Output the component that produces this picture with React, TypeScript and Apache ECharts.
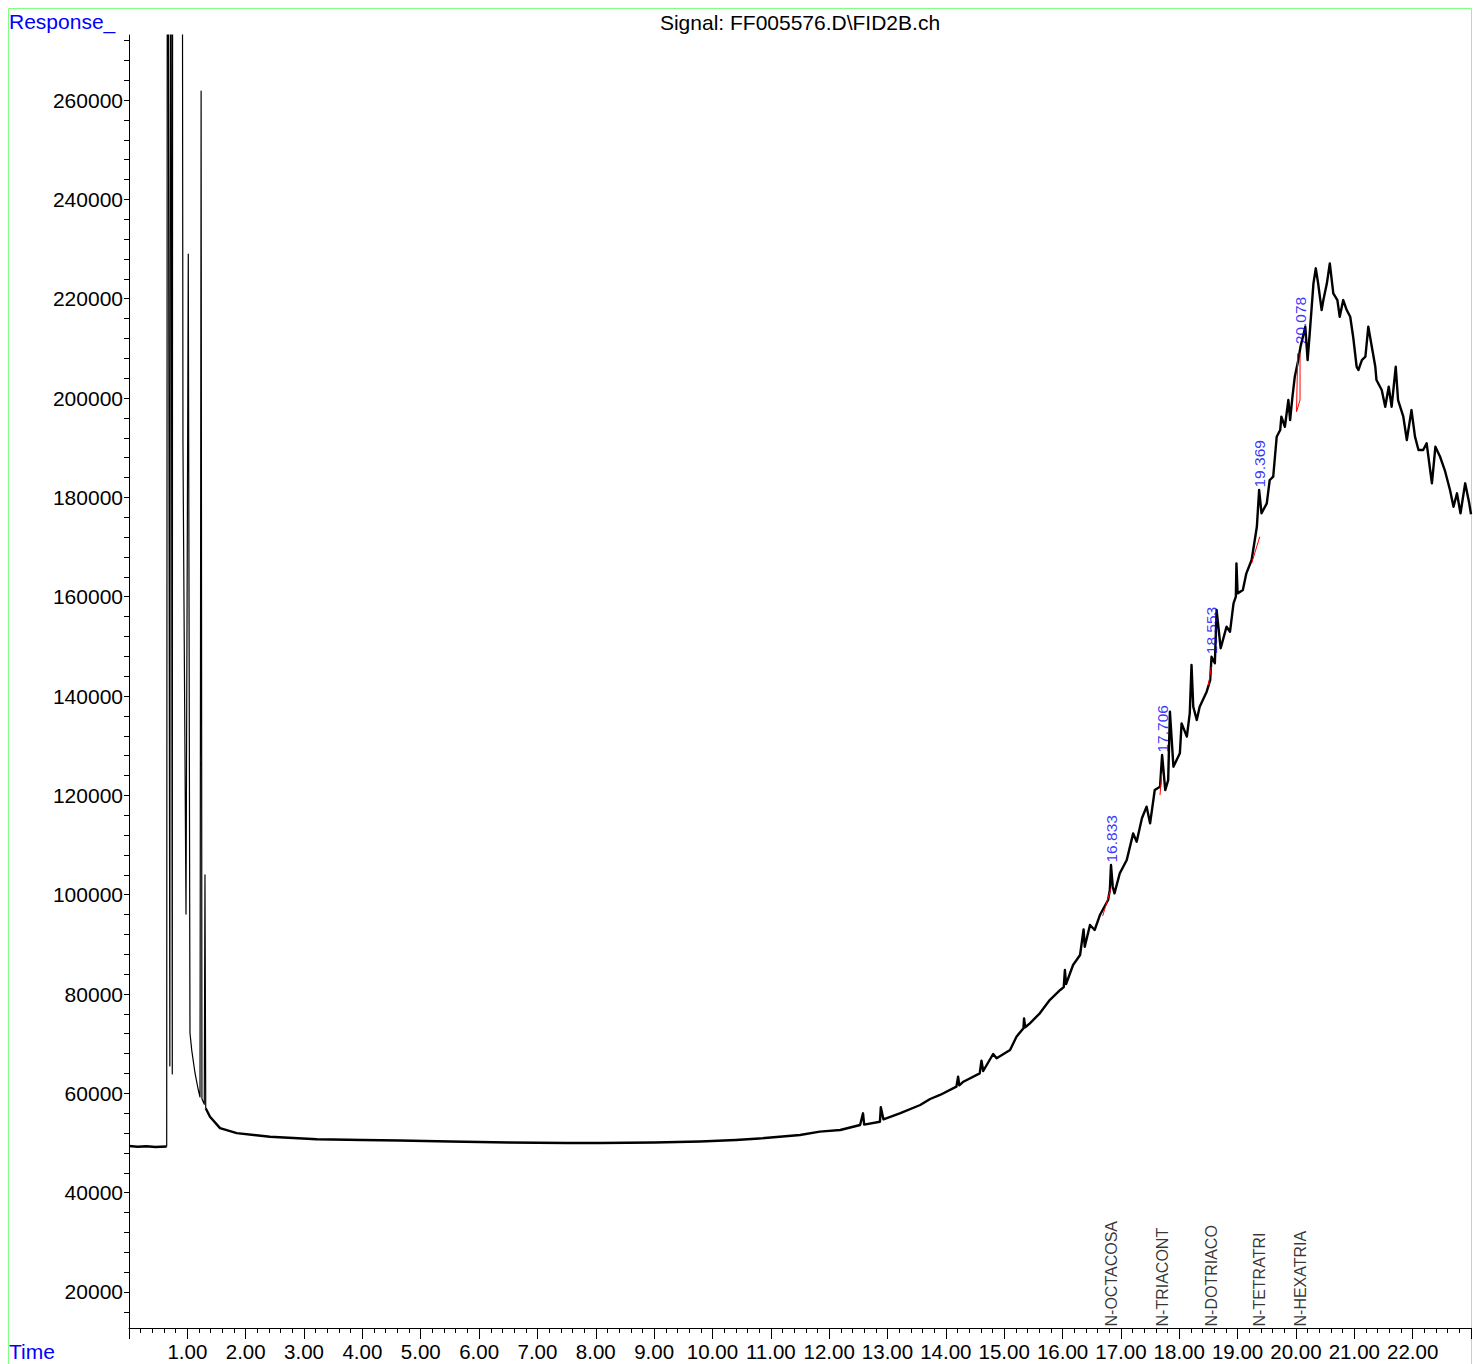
import React, { useEffect, useRef } from 'react';
import * as echarts from 'echarts';

const FONT = '"Liberation Sans", Arial, Helvetica, sans-serif';

const signalTitle = 'Signal: FF005576.D\\FID2B.ch';
const yAxisName = 'Response_';
const xAxisName = 'Time';

// y axis labels and ticks
const yLabelValues = [20000, 40000, 60000, 80000, 100000, 120000, 140000, 160000, 180000, 200000, 220000, 240000, 260000];
const yTickValues = [16000, 20000, 24000, 28000, 32000, 36000, 40000, 44000, 48000, 52000, 56000, 60000, 64000, 68000, 72000, 76000, 80000, 84000, 88000, 92000, 96000, 100000, 104000, 108000, 112000, 116000, 120000, 124000, 128000, 132000, 136000, 140000, 144000, 148000, 152000, 156000, 160000, 164000, 168000, 172000, 176000, 180000, 184000, 188000, 192000, 196000, 200000, 204000, 208000, 212000, 216000, 220000, 224000, 228000, 232000, 236000, 240000, 244000, 248000, 252000, 256000, 260000, 264000, 268000, 272000];

// trace before injection
const preTrace: [number, number][] = [
  [0, 49400], [0.15, 49250], [0.3, 49350], [0.45, 49200], [0.646, 49300],
];

// solvent front region (thin lines)
const solventTrace: [number, number][] = [
  [0.646, 49300], [0.660, 400000], [0.700, 65500], [0.712, 400000], [0.742, 63900],
  [0.750, 400000], [0.905, 400000], [0.925, 190500], [0.977, 96100], [1.016, 229000],
  [1.045, 72150], [1.075, 68700], [1.131, 64100], [1.188, 60670], [1.217, 59260],
  [1.236, 261800], [1.250, 58900], [1.290, 57800], [1.302, 104000], [1.315, 57000],
];

// main trace
const mainTrace: [number, number][] = [
  [1.315, 57000], [1.388, 55300], [1.56, 53000], [1.846, 52000], [2.416, 51270], [3.217, 50750],
  [4.0, 50600], [4.64, 50500], [5.5, 50300], [6.5, 50100], [7.5, 50000], [8.07, 50000],
  [9.0, 50100], [9.79, 50300], [10.4, 50600], [10.8, 50900], [11.5, 51600], [11.84, 52280],
  [12.19, 52620], [12.53, 53620], [12.58, 55980], [12.60, 53700], [12.87, 54290], [12.885, 57190],
  [12.93, 54760], [13.21, 55980], [13.56, 57650], [13.73, 58860], [13.9, 59670], [14.18, 61340],
  [14.21, 63350], [14.23, 61600], [14.3, 62340], [14.58, 64030], [14.61, 66570], [14.64, 64500],
  [14.81, 67920], [14.87, 67050], [15.1, 68730], [15.21, 71410], [15.33, 73090], [15.34, 75100],
  [15.36, 73300], [15.44, 74100], [15.61, 76110], [15.78, 78790], [15.96, 80810], [16.02, 81400],
  [16.04, 84830], [16.06, 82000], [16.18, 85840], [16.3, 87850], [16.36, 93020], [16.38, 89530],
  [16.47, 93890], [16.55, 92890], [16.64, 95900], [16.78, 98920], [16.81, 100940], [16.83, 105970],
  [16.86, 101610], [16.89, 100270], [16.98, 104300], [17.1, 106980], [17.21, 112350], [17.27, 110670],
  [17.36, 115380], [17.44, 117730], [17.5, 114370], [17.58, 121070], [17.67, 121740], [17.706, 128120],
  [17.76, 121070], [17.81, 123080], [17.84, 136840], [17.9, 125770], [18.01, 128460], [18.04, 134500],
  [18.13, 131820], [18.18, 136520], [18.21, 146240], [18.24, 137850], [18.3, 135170], [18.35, 137850],
  [18.47, 140870], [18.53, 143220], [18.553, 147910], [18.61, 146585], [18.64, 157320], [18.71, 149610],
  [18.81, 153960], [18.87, 152950], [18.93, 158660], [18.97, 160000], [18.98, 166710], [19.0, 160670],
  [19.09, 161340], [19.15, 164700], [19.24, 167380], [19.33, 174090], [19.369, 181480], [19.41, 176790],
  [19.5, 178800], [19.55, 183490], [19.61, 184155], [19.67, 192210], [19.73, 193560], [19.75, 196240],
  [19.81, 194220], [19.87, 199600], [19.9, 195570], [19.94, 200260], [19.98, 204290], [20.04, 207650],
  [20.078, 210330], [20.16, 214360], [20.2, 207650], [20.24, 213690], [20.3, 223090], [20.34, 226120],
  [20.38, 223090], [20.44, 217720], [20.47, 219730], [20.53, 223090], [20.58, 227120], [20.64, 221080],
  [20.71, 219730], [20.75, 216370], [20.81, 219730], [20.87, 217720], [20.93, 216370], [20.98, 212350],
  [21.04, 206300], [21.07, 205640], [21.13, 207650], [21.19, 208315], [21.24, 214360], [21.3, 210330],
  [21.36, 206300], [21.38, 203620], [21.47, 201610], [21.53, 198250], [21.59, 202280], [21.64, 198250],
  [21.71, 206300], [21.75, 199600], [21.84, 196240], [21.9, 191550], [21.98, 197580], [22.04, 192230],
  [22.1, 189530], [22.18, 189530], [22.24, 190880], [22.33, 182830], [22.39, 190200], [22.47, 188182],
  [22.55, 185500], [22.64, 181480], [22.7, 178120], [22.76, 180810], [22.82, 176790], [22.9, 182830],
  [22.97, 178800], [23.0, 176600],
];

// integration baselines (red)
const integrationBaselines: [number, number][][] = [
  [[16.687, 95710], [16.83, 101287]],
  [[17.67, 120060], [17.70, 124420]],
  [[18.50, 142210], [18.55, 145900]],
  [[19.24, 166710], [19.38, 172080]],
  [[20.03, 209000], [20.01, 197260], [20.07, 199600], [20.07, 209000]],
];

// peak annotations
const peakTimes = [16.833, 17.706, 18.553, 19.369, 20.078];
const peakHeights = [105970, 128120, 147910, 181480, 210330];
const peakLabels = ['16.833', '17.706', '18.553', '19.369', '20.078'];
const compoundNames = ['N-OCTACOSA', 'N-TRIACONT', 'N-DOTRIACO', 'N-TETRATRI', 'N-HEXATRIA'];

const X_MIN = 0;
const X_MAX = 23;
const Y_MIN = 12750;
const Y_MAX = 273100;

export default function App() {
  const ref = useRef<HTMLDivElement>(null);

  useEffect(() => {
    if (!ref.current) return;
    const chart = echarts.init(ref.current, null, { renderer: 'svg' });

    const traceLine = (data: [number, number][], width: number) => ({
      type: 'line',
      data,
      showSymbol: false,
      symbol: 'none',
      clip: true,
      lineStyle: { color: '#000', width, join: 'round' },
      silent: true,
      z: 3,
    });

    const baselineSeries = integrationBaselines.map((seg) => ({
      type: 'line',
      data: seg,
      symbol: 'none',
      clip: true,
      lineStyle: { color: '#ff0000', width: 1 },
      silent: true,
      z: 4,
    }));

    const option: any = {
      animation: false,
      backgroundColor: '#ffffff',
      grid: { left: 129, right: 2, top: 35, bottom: 36, containLabel: false, outerBoundsMode: 'none' },
      xAxis: {
        type: 'value',
        min: X_MIN,
        max: X_MAX,
        interval: 1,
        axisLine: { show: true, onZero: false, lineStyle: { color: '#000', width: 1 } },
        axisTick: { show: true, length: 11, inside: false, lineStyle: { color: '#000', width: 1 } },
        minorTick: { show: true, splitNumber: 5, length: 5, lineStyle: { color: '#000', width: 1 } },
        axisLabel: {
          show: true,
          formatter: (v: number) => v.toFixed(2),
          showMinLabel: false,
          showMaxLabel: false,
          margin: 13,
          color: '#000',
          fontSize: 20.5,
          fontFamily: FONT,
        },
        splitLine: { show: false },
        minorSplitLine: { show: false },
      },
      yAxis: {
        type: 'value',
        min: Y_MIN,
        max: Y_MAX,
        axisLine: { show: true, onZero: false, lineStyle: { color: '#000', width: 1 } },
        axisTick: { show: true, length: 5, inside: false, customValues: yTickValues, lineStyle: { color: '#000', width: 1 } },
        axisLabel: {
          show: true,
          customValues: yLabelValues,
          formatter: (v: number) => String(v),
          margin: 6,
          color: '#000',
          fontSize: 21,
          fontFamily: FONT,
        },
        splitLine: { show: false },
      },
      series: [
        traceLine(preTrace, 2.4),
        traceLine(solventTrace, 1.2),
        traceLine(mainTrace, 2.4),
        ...baselineSeries,
        {
          type: 'scatter',
          data: peakTimes.map((t, i) => [t, peakHeights[i]]),
          symbol: 'circle',
          symbolSize: 1,
          itemStyle: { color: 'rgba(0,0,0,0)' },
          silent: true,
          z: 5,
          label: {
            show: true,
            position: 'top',
            distance: 2,
            rotate: 90,
            align: 'left',
            verticalAlign: 'middle',
            formatter: (p: any) => peakLabels[p.dataIndex],
            color: '#0000ff',
            fontSize: 15.5,
            fontFamily: FONT,
          },
        },
        {
          type: 'scatter',
          data: peakTimes.map((t) => [t, Y_MIN]),
          symbol: 'circle',
          symbolSize: 1,
          itemStyle: { color: 'rgba(0,0,0,0)' },
          silent: true,
          z: 5,
          label: {
            show: true,
            position: 'top',
            distance: 1,
            rotate: 90,
            align: 'left',
            verticalAlign: 'middle',
            formatter: (p: any) => compoundNames[p.dataIndex],
            color: '#000',
            fontSize: 16,
            fontFamily: FONT,
          },
        },
      ],
      graphic: [
        {
          type: 'rect',
          silent: true,
          shape: { x: 8.5, y: 8.5, width: 1463, height: 1400 },
          style: { fill: 'none', stroke: '#80ff80', lineWidth: 1 },
          z: 0,
        },
        {
          type: 'text',
          silent: true,
          x: 800,
          y: 22,
          style: { text: signalTitle, align: 'center', verticalAlign: 'middle', fill: '#000', font: `21px ${FONT}` },
        },
        {
          type: 'text',
          silent: true,
          x: 9,
          y: 21,
          style: { text: yAxisName, align: 'left', verticalAlign: 'middle', fill: '#0000ff', font: `21px ${FONT}` },
        },
        {
          type: 'text',
          silent: true,
          x: 9,
          y: 1351,
          style: { text: xAxisName, align: 'left', verticalAlign: 'middle', fill: '#0000ff', font: `21px ${FONT}` },
        },
      ],
    };

    chart.setOption(option);
    return () => chart.dispose();
  }, []);

  return (
    <div
      ref={ref}
      style={{ position: 'fixed', left: 0, top: 0, width: 1473, height: 1364, background: '#fff' }}
    />
  );
}
